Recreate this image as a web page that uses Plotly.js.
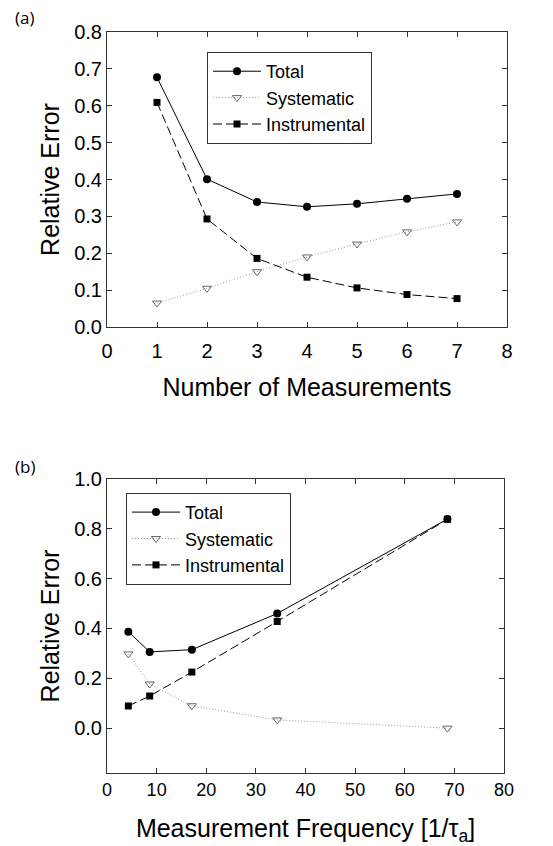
<!DOCTYPE html>
<html>
<head>
<meta charset="utf-8">
<script src="https://cdn.plot.ly/plotly-3.0.1.min.js"></script>
<style>
html,body{margin:0;padding:0;background:#fff;}
#chart{width:553px;height:846px;}
</style>
</head>
<body>
<div id="chart"></div>
<script>
// Panel (a): Number of Measurements
const aX = [1, 2, 3, 4, 5, 6, 7];
const aTotal = [0.677, 0.401, 0.339, 0.326, 0.334, 0.348, 0.361];
const aSystematic = [0.065, 0.105, 0.150, 0.190, 0.225, 0.258, 0.285];
const aInstrumental = [0.609, 0.293, 0.186, 0.135, 0.106, 0.088, 0.077];

// Panel (b): Measurement Frequency
const bX = [4.3, 8.6, 17.1, 34.3, 68.6];
const bTotal = [0.387, 0.306, 0.315, 0.460, 0.839];
const bSystematic = [0.298, 0.177, 0.090, 0.033, 0.0];
const bInstrumental = [0.089, 0.129, 0.225, 0.428, 0.838];

const seriesNames = ["Total", "Systematic", "Instrumental"];
const panelLabels = ["(a)", "(b)"];
const aXTitle = "Number of Measurements";
const bXTitle = "Measurement Frequency [1/τ<sub>a</sub>]";
const yTitle = "Relative Error";

const FONT = "'Liberation Sans', Arial, sans-serif";

function styles(i) {
  if (i === 0) return {
    line: {color: "#000", width: 1, dash: "solid"},
    marker: {symbol: "circle", size: 8, color: "#000"}
  };
  if (i === 1) return {
    line: {color: "#9a9a9a", width: 1, dash: "1px,2px"},
    marker: {symbol: "triangle-down-open", size: 8, color: "#666", line: {width: 1, color: "#666"}}
  };
  return {
    line: {color: "#000", width: 1, dash: "9px,4px"},
    marker: {symbol: "square", size: 7, color: "#000"}
  };
}

const traces = [];
[aTotal, aSystematic, aInstrumental].forEach((ys, i) => {
  const s = styles(i);
  traces.push({x: aX, y: ys, name: seriesNames[i], type: "scatter", mode: "lines+markers",
    line: s.line, marker: s.marker, xaxis: "x", yaxis: "y", legend: "legend"});
});
[bTotal, bSystematic, bInstrumental].forEach((ys, i) => {
  const s = styles(i);
  traces.push({x: bX, y: ys, name: seriesNames[i], type: "scatter", mode: "lines+markers",
    line: s.line, marker: s.marker, xaxis: "x2", yaxis: "y2", legend: "legend2"});
});

const axisCommon = {
  showgrid: false, zeroline: false, showline: true, linecolor: "#333", linewidth: 1,
  mirror: "ticks", ticks: "inside", ticklen: 5, tickwidth: 1, tickcolor: "#333",
  tickfont: {family: FONT, size: 20, color: "#000"}
};

const legendCommon = {
  bgcolor: "#fff", bordercolor: "#333", borderwidth: 1,
  font: {family: FONT, size: 18, color: "#000"},
  xanchor: "left", yanchor: "top", itemwidth: 48, tracegroupgap: 0,
  itemclick: false
};

const layout = {
  width: 553, height: 846,
  margin: {l: 107, r: 46, t: 32, b: 73},
  paper_bgcolor: "#fff", plot_bgcolor: "#fff",
  font: {family: FONT, color: "#000"},
  xaxis: Object.assign({}, axisCommon, {
    domain: [0, 1], anchor: "y", range: [0, 8], dtick: 1, tick0: 0, ticklabelstandoff: 6,
    title: {text: aXTitle, font: {family: FONT, size: 25}, standoff: 17}
  }),
  yaxis: Object.assign({}, axisCommon, {
    domain: [0.6019, 1], anchor: "x", range: [0, 0.8], dtick: 0.1, tick0: 0, tickformat: ".1f",
    title: {text: yTitle, font: {family: FONT, size: 25}, standoff: 7}
  }),
  xaxis2: Object.assign({}, axisCommon, {
    domain: [0, 0.9925], anchor: "y2", range: [0, 80], dtick: 10, tick0: 0, ticklabelstandoff: 0,
    tickfont: {family: FONT, size: 18, color: "#000"},
    title: {text: bXTitle, font: {family: FONT, size: 25}, standoff: 22}
  }),
  yaxis2: Object.assign({}, axisCommon, {
    domain: [0, 0.3968], anchor: "x2", range: [-0.18, 1.0], dtick: 0.2, tick0: 0, tickformat: ".1f",
    title: {text: yTitle, font: {family: FONT, size: 25}, standoff: 7}
  }),
  legend: Object.assign({}, legendCommon, {x: 0.25, y: 0.973}),
  legend2: Object.assign({}, legendCommon, {x: 0.0475, y: 0.378}),
  annotations: [
    {text: panelLabels[0], xref: "paper", yref: "paper", x: -0.235, y: 1.0202,
     xanchor: "left", yanchor: "middle", showarrow: false, font: {family: "'Open Sans', sans-serif", size: 17}},
    {text: panelLabels[1], xref: "paper", yref: "paper", x: -0.235, y: 0.4134,
     xanchor: "left", yanchor: "middle", showarrow: false, font: {family: "'Open Sans', sans-serif", size: 17}}
  ],
  showlegend: true
};

Plotly.newPlot("chart", traces, layout, {staticPlot: true, displayModeBar: false});
</script>
</body>
</html>
